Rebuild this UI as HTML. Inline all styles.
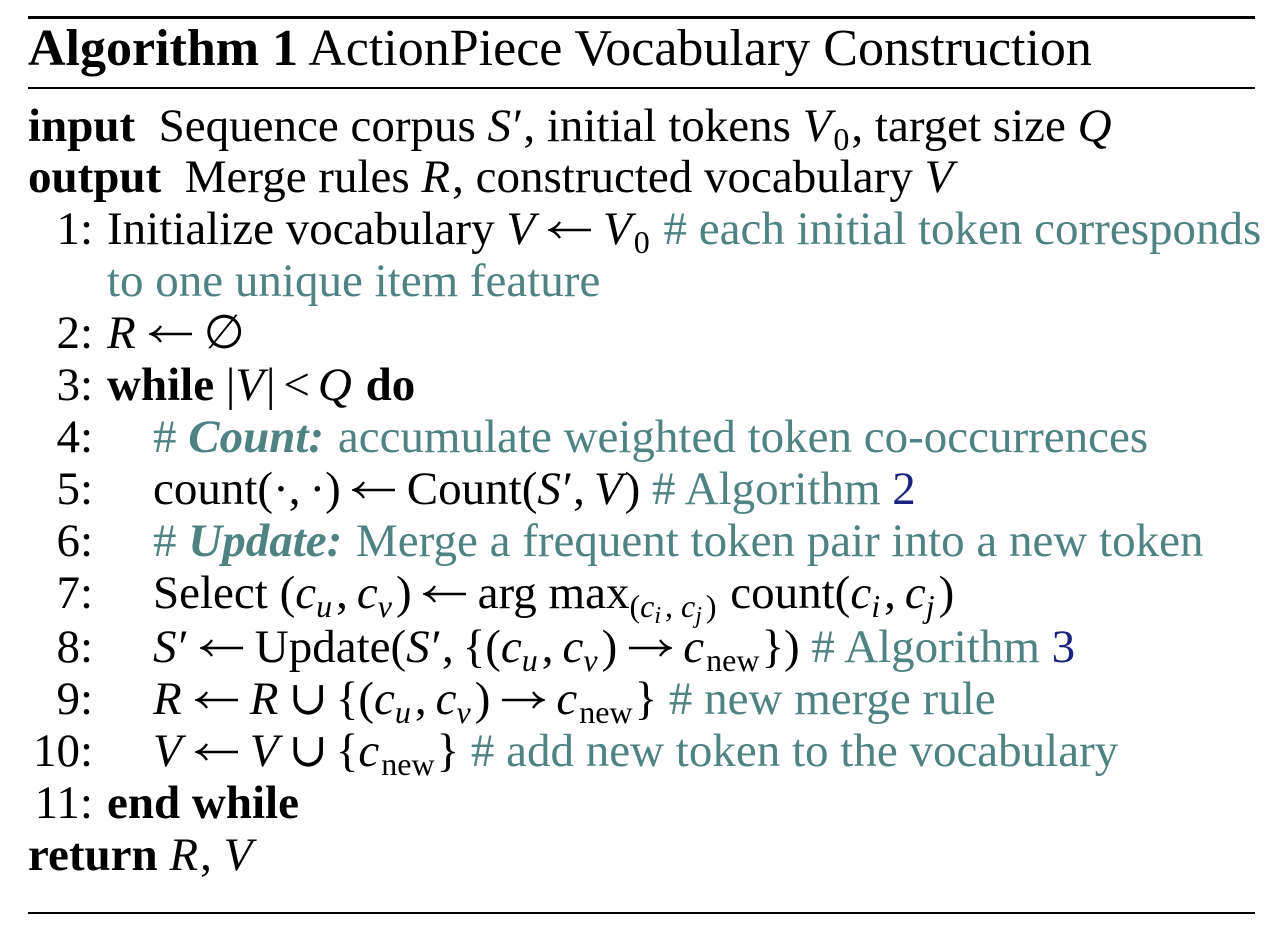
<!DOCTYPE html>
<html><head><meta charset="utf-8"><style>
body{margin:0;width:1276px;height:938px;background:#fff;position:relative;overflow:hidden;font-family:"Liberation Serif","DejaVu Serif",serif;color:#000}
.l{position:absolute;font-size:47px;line-height:47px;white-space:nowrap}
.n{position:absolute;font-size:47px;line-height:47px;text-align:right;width:93px;left:0}
.c{color:#4f8282}
.b{font-weight:bold}
i{font-style:italic;margin-right:2px}
.blue{color:#1a237e}
.ar{display:inline-block;width:44px;height:20px;margin:0 11px;vertical-align:4px}
.op{margin:0 8px}
.cm{margin-right:9px}
sub{font-size:32px;vertical-align:-9px;line-height:0;margin-right:2px}
sub sub{font-size:24px;vertical-align:-6px}
.rule{position:absolute;left:28px;width:1227px;background:#000}
</style></head><body>
<svg width="0" height="0" style="position:absolute">
<defs>
<symbol id="la" viewBox="0 0 44 20"><path d="M2 10H43M12 2Q8 8 2 10Q8 12 12 18" fill="none" stroke="#000" stroke-width="2.4"/></symbol>
<symbol id="ra" viewBox="0 0 44 20"><path d="M1 10H42M32 2Q36 8 42 10Q36 12 32 18" fill="none" stroke="#000" stroke-width="2.4"/></symbol>
</defs></svg>
<div class="rule" style="top:16px;height:3px"></div>
<div class="rule" style="top:87px;height:2px"></div>
<div class="rule" style="top:912px;height:2px"></div>

<div class="l" style="left:28px;top:23px;font-size:52px;line-height:52px"><span class="b">Algorithm 1</span> ActionPiece Vocabulary Construction</div>
<div class="l" style="left:28px;top:103px"><span class="b">input</span>&nbsp; Sequence corpus <i>S</i>′, initial tokens <i>V</i><sub>0</sub>, target size <i>Q</i></div>
<div class="l" style="left:28px;top:154px"><span class="b">output</span>&nbsp; Merge rules <i>R</i>, constructed vocabulary <i>V</i></div>

<div class="n" style="top:206px">1:</div>
<div class="l" style="left:107px;top:206px">Initialize vocabulary <i>V</i><svg class="ar"><use href="#la"/></svg><i>V</i><sub>0</sub> <span class="c"># each initial token corresponds</span></div>
<div class="l c" style="left:107px;top:258px">to one unique item feature</div>
<div class="n" style="top:310px">2:</div>
<div class="l" style="left:107px;top:310px"><i>R</i><svg class="ar"><use href="#la"/></svg>∅</div>
<div class="n" style="top:362px">3:</div>
<div class="l" style="left:107px;top:362px"><span class="b">while</span> |<i>V</i>|<span class="op">&lt;</span><i>Q</i> <span class="b">do</span></div>
<div class="n" style="top:414px">4:</div>
<div class="l c" style="left:153px;top:414px"># <b><i>Count:</i></b> accumulate weighted token co-occurrences</div>
<div class="n" style="top:466px">5:</div>
<div class="l" style="left:153px;top:466px">count(·<span class="cm">,</span>·)<svg class="ar"><use href="#la"/></svg>Count(<i>S</i>′<span class="cm">,</span><i>V</i>) <span class="c"># Algorithm <span class="blue">2</span></span></div>
<div class="n" style="top:518px">6:</div>
<div class="l c" style="left:153px;top:518px"># <b><i>Update:</i></b> Merge a frequent token pair into a new token</div>
<div class="n" style="top:570px">7:</div>
<div class="l" style="left:153px;top:570px">Select (<i>c<sub>u</sub></i><span class="cm">,</span><i>c<sub>v</sub></i>)<svg class="ar"><use href="#la"/></svg>arg max<sub>(<i>c<sub>i</sub></i>, <i>c<sub>j</sub></i>)</sub> count(<i>c<sub>i</sub></i><span class="cm">,</span><i>c<sub>j</sub></i>)</div>
<div class="n" style="top:624px">8:</div>
<div class="l" style="left:153px;top:624px"><i>S</i>′<svg class="ar"><use href="#la"/></svg>Update(<i>S</i>′<span class="cm">,</span>{(<i>c<sub>u</sub></i><span class="cm">,</span><i>c<sub>v</sub></i>)<svg class="ar"><use href="#ra"/></svg><i>c</i><sub>new</sub>}) <span class="c"># Algorithm <span class="blue">3</span></span></div>
<div class="n" style="top:676px">9:</div>
<div class="l" style="left:153px;top:676px"><i>R</i><svg class="ar"><use href="#la"/></svg><i>R</i><span class="op">∪</span>{(<i>c<sub>u</sub></i><span class="cm">,</span><i>c<sub>v</sub></i>)<svg class="ar"><use href="#ra"/></svg><i>c</i><sub>new</sub>} <span class="c"># new merge rule</span></div>
<div class="n" style="top:728px">10:</div>
<div class="l" style="left:153px;top:728px"><i>V</i><svg class="ar"><use href="#la"/></svg><i>V</i><span class="op">∪</span>{<i>c</i><sub>new</sub>} <span class="c"># add new token to the vocabulary</span></div>
<div class="n" style="top:780px">11:</div>
<div class="l b" style="left:107px;top:780px">end while</div>
<div class="l" style="left:28px;top:832px"><span class="b">return</span> <i>R</i>, <i>V</i></div>
</body></html>
